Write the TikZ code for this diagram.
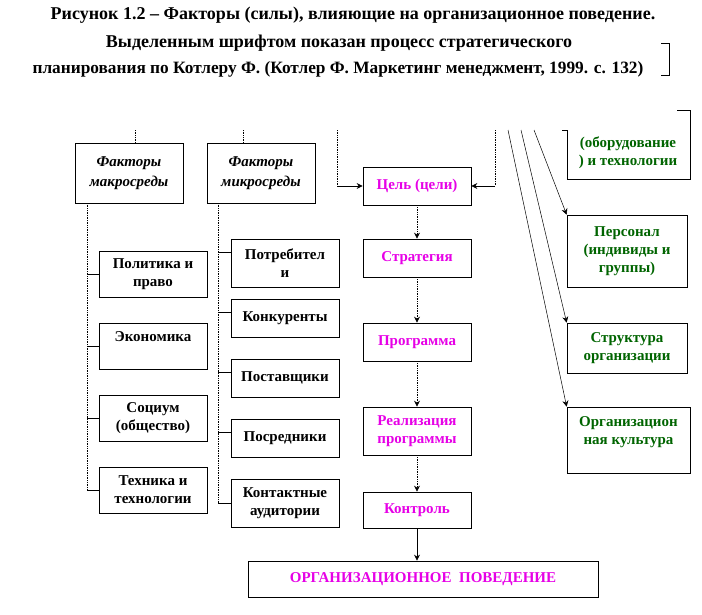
\documentclass[tikz,border=0pt]{standalone}
\usepackage{fontspec}
\setmainfont{Liberation Serif}
\usetikzlibrary{arrows.meta}

\definecolor{lineColor}{RGB}{0,0,0}
\definecolor{stageMagenta}{RGB}{230,0,230}
\definecolor{innerGreen}{RGB}{0,100,0}

\begin{document}
\begin{tikzpicture}[
  x=1pt, y=-1pt,
  font=\bfseries\fontsize{15}{18}\selectfont,
  box/.style={draw=lineColor, line width=0.7pt, align=center, inner sep=2pt},
  head/.style={box, minimum width=108pt, minimum height=60pt, font=\bfseries\itshape\fontsize{15}{20}\selectfont},
  macro/.style={box, minimum width=108pt, minimum height=46pt},
  micro/.style={box, minimum width=108pt},
  stage/.style={box, minimum width=108pt, text=stageMagenta},
  insidebox/.style={box, minimum width=120pt, text=innerGreen},
  title/.style={font=\bfseries\fontsize{18}{22}\selectfont, text=lineColor},
  spine/.style={draw=lineColor, line width=0.7pt, densely dotted},
  link/.style={draw=lineColor, line width=0.7pt},
  flow/.style={spine, -{Stealth[length=6pt, width=6pt]}},
  push/.style={link, -{Stealth[length=6pt, width=6pt]}}
]
\useasboundingbox (0,0) rectangle (702,614);

% Caption
\node[title] (titleA) at (353,15) {Рисунок 1.2 – Факторы (силы), влияющие на организационное поведение.};
\node[title] (titleB) at (339,43) {Выделенным шрифтом показан процесс стратегического};
\node[title, font=\bfseries\fontsize{17.3}{22}\selectfont] (titleC) at (338,69) {планирования по Котлеру Ф. (Котлер Ф. Маркетинг менеджмент, 1999. с. 132)};
\draw[link] (661,43) -- (669,43) -- (669,75) -- (661,75);

% Heads of the two environments
\node[head] (macroHead) at (129,173) {Факторы\\макросреды};
\node[head] (microHead) at (261,173) {Факторы\\микросреды};

% Macro environment
\node[macro] (polit)  at (153,274) {Политика и\\право};
\node[macro] (econ)   at (153,346) {Экономика\\~};
\node[macro] (socium) at (153,418) {Социум\\(общество)};
\node[macro] (tech)   at (153,490) {Техника и\\технологии};

% Micro environment
\node[micro, minimum height=48pt] (consumers)      at (285,263) {Потребител\\и};
\node[micro, minimum height=38pt] (competitors)    at (285,318) {Конкуренты};
\node[micro, minimum height=38pt] (suppliers)      at (285,378) {Поставщики};
\node[micro, minimum height=38pt] (intermediaries) at (285,438) {Посредники};
\node[micro, minimum height=48pt] (audiences)      at (285,503) {Контактные\\аудитории};

% Strategic planning (Kotler)
\node[stage, minimum height=38pt] (goal)     at (417,186) {Цель (цели)};
\node[stage, minimum height=38pt] (strategy) at (417,258) {Стратегия};
\node[stage, minimum height=38pt] (program)  at (417,342) {Программа};
\node[stage, minimum height=48pt] (realize)  at (417,431) {Реализация\\программы};
\node[stage, minimum height=36pt] (control)  at (417,510) {Контроль};
\node[stage, minimum width=350pt, minimum height=36pt] (behavior) at (423,579) {ОРГАНИЗАЦИОННОЕ~~ПОВЕДЕНИЕ};

% Internal factors
\node[insidebox, draw=none] (equip) at (628,153) {(оборудование\\) и технологии};
\draw[link] (562,130) -- (567,130) -- (567,179) -- (690,179) -- (690,110) -- (677,110);
\node[insidebox, minimum height=72pt] (personnel) at (627,251) {Персонал\\(индивиды и\\группы)};
\node[insidebox, minimum height=50pt] (structure) at (627,348) {Структура\\организации};
\node[insidebox, minimum width=123pt, minimum height=66pt] (culture) at (628.5,440) {Организацион\\ная культура\\~};

% Stubs coming from above
\coordinate (stubMacro) at (135,130);
\coordinate (stubMicro) at (243,130);
\coordinate (stubGoalL) at (337,130);
\coordinate (stubGoalR) at (495,130);
\coordinate (stubCulture) at (508,130);
\coordinate (stubStructure) at (521,130);
\coordinate (stubPersonnel) at (534,130);

\draw[spine] (stubMacro) -- (stubMacro |- macroHead.north);
\draw[spine] (stubMicro) -- (stubMicro |- microHead.north);
\draw[spine] (stubGoalL) -- (stubGoalL |- goal.west);
\draw[push] (stubGoalL |- goal.west) -- (goal.west);
\draw[spine] (stubGoalR) -- (stubGoalR |- goal.east);
\draw[push] (stubGoalR |- goal.east) -- (goal.east);

\draw[push, line width=0.5pt] (stubPersonnel) -- (personnel.north west);
\draw[push, line width=0.5pt] (stubStructure) -- (structure.north west);
\draw[push, line width=0.5pt] (stubCulture) -- (culture.north west);

% Spines of the environments
\coordinate (spineMacro) at (87,203);
\coordinate (spineMicro) at (218,203);
\draw[spine] (spineMacro) -- (spineMacro |- tech.west);
\draw[spine] (spineMicro) -- (spineMicro |- audiences.west);
\foreach \n in {polit, econ, socium, tech}
  \draw[link] (\n.west) -- ++(-12,0);
\foreach \n/\s in {consumers/11, competitors/6, suppliers/6, intermediaries/6, audiences/0}
  \draw[link] ([yshift=\s pt]\n.west) -- ++(-13,0);

% Planning flow
\foreach \a/\b in {goal/strategy, strategy/program, program/realize, realize/control}
  \draw[flow] (\a.south) -- (\b.north);
\draw[push] (control.south) -- (control.south |- behavior.north);

\end{tikzpicture}
\end{document}
